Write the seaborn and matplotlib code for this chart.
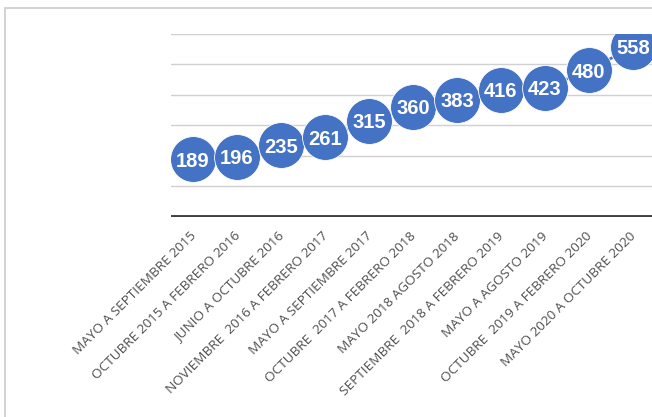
import matplotlib
matplotlib.use("Agg")
import matplotlib.pyplot as plt
import matplotlib.transforms as mtransforms
from matplotlib.patches import Rectangle
import seaborn as sns
import pandas as pd

periodos = [
    "MAYO A SEPTIEMBRE 2015",
    "OCTUBRE 2015 A FEBRERO 2016",
    "JUNIO A OCTUBRE 2016",
    "NOVIEMBRE  2016 A FEBRERO 2017",
    "MAYO A SEPTIEMBRE 2017",
    "OCTUBRE  2017 A FEBRERO 2018",
    "MAYO 2018 AGOSTO 2018",
    "SEPTIEMBRE  2018 A FEBRERO 2019",
    "MAYO A AGOSTO 2019",
    "OCTUBRE  2019 A FEBRERO 2020",
    "MAYO 2020 A OCTUBRE 2020",
]
valores = [189, 196, 235, 261, 315, 360, 383, 416, 423, 480, 558]
lineas_guia = [100, 200, 300, 400, 500, 600]

azul = "#4472C4"

sns.set_theme(style="white")
plt.rcParams["font.family"] = ["Open Sans", "DejaVu Sans"]

df = pd.DataFrame({"periodo": periodos, "valor": valores})

W, H = 652, 417
fig = plt.figure(figsize=(W / 100, H / 100), dpi=100)
fig.patch.set_facecolor("white")

left_px, top_px, bottom_px = 171, 33.7, 216.7
cat_w = 44
ax = fig.add_axes([left_px / W, 1 - bottom_px / H,
                   len(periodos) * cat_w / W, (bottom_px - top_px) / H])
ax.set_facecolor("none")

for g in lineas_guia:
    ax.axhline(g, color="#D0D0D0", lw=1.0, zorder=1)
ax.axhline(0, color="#404040", lw=2.8, zorder=2)

sns.lineplot(data=df, x="periodo", y="valor", sort=False, ax=ax,
             color=azul, lw=2.0, marker="o", markersize=33,
             markerfacecolor=azul, markeredgecolor="white",
             markeredgewidth=0.6, zorder=3)

for i, v in enumerate(valores):
    ax.text(i, v, str(v), ha="center", va="center_baseline", color="white",
            fontsize=14.5, fontweight="bold", zorder=4,
            family=["Liberation Sans", "DejaVu Sans"])

ax.set_xlim(-0.5, len(periodos) - 0.5)
ax.set_ylim(0, 600)
ax.set_xlabel("")
ax.set_ylabel("")
ax.set_yticks([])
for s in ax.spines.values():
    s.set_visible(False)
ax.tick_params(axis="x", length=0, pad=12.5, labelsize=9.7, colors="#4F4F4F")
ax.set_xticks(range(len(periodos)))
ax.set_xticklabels(periodos)
offset = mtransforms.ScaledTranslation(1 / 100, 0, fig.dpi_scale_trans)
for lbl in ax.get_xticklabels():
    lbl.set_rotation(45)
    lbl.set_ha("right")
    lbl.set_va("center")
    lbl.set_rotation_mode("anchor")
    lbl.set_transform(lbl.get_transform() + offset)

# chart frame
fig.add_artist(Rectangle((5 / W, -0.2), 1.2, 1.2 - 8 / H,
                         transform=fig.transFigure, fill=False,
                         edgecolor="#CFCFCF", lw=1.3, zorder=10))

fig.savefig("out.png", dpi=100)
